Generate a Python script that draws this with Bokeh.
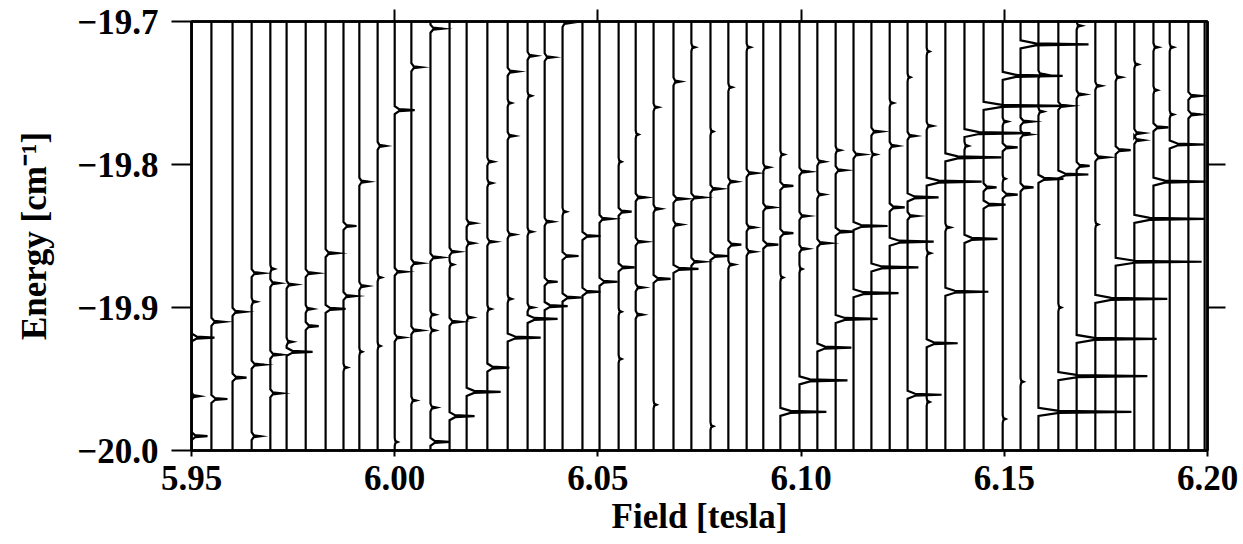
from bokeh.plotting import figure
from bokeh.models import LinearAxis, FixedTicker, Range1d, ColumnDataSource
from bokeh.embed import file_html
from bokeh.resources import INLINE

# ---------------- data ----------------
# magnetic field of each recorded trace [tesla]
FIELD = [5.9500, 5.9549, 5.9601, 5.9648, 5.9694, 5.9734, 5.9781, 5.9830, 5.9874, 5.9913,
         5.9958, 6.0000, 6.0041, 6.0088, 6.0135, 6.0177, 6.0228, 6.0278, 6.0327, 6.0369,
         6.0413, 6.0462, 6.0504, 6.0551, 6.0593, 6.0637, 6.0686, 6.0730, 6.0777, 6.0821,
         6.0866, 6.0907, 6.0949, 6.0996, 6.1040, 6.1085, 6.1129, 6.1173, 6.1218, 6.1262,
         6.1309, 6.1355, 6.1402, 6.1449, 6.1496, 6.1540, 6.1584, 6.1633, 6.1678, 6.1724,
         6.1774, 6.1820, 6.1867, 6.1907, 6.1953, 6.1993]

# peak energies [cm^-1] for each trace
PEAK_E = [
    [-19.921, -19.962, -19.990],
    [-19.910, -19.964],
    [-19.903, -19.949],
    [-19.876, -19.896, -19.940, -19.990],
    [-19.873, -19.883, -19.933, -19.960],
    [-19.884, -19.924, -19.931],
    [-19.876, -19.901, -19.913],
    [-19.862, -19.901],
    [-19.843, -19.892, -19.942],
    [-19.812, -19.885, -19.931],
    [-19.787, -19.879, -19.927],
    [-19.762, -19.875, -19.921, -19.994],
    [-19.732, -19.869, -19.916, -19.965],
    [-19.705, -19.865, -19.905, -19.916, -19.970, -19.994],
    [-19.861, -19.870, -19.910, -19.976],
    [-19.841, -19.855, -19.907, -19.959],
    [-19.798, -19.813, -19.854, -19.901, -19.942],
    [-19.735, -19.757, -19.780, -19.849, -19.894, -19.921],
    [-19.724, -19.752, -19.847, -19.900, -19.908],
    [-19.725, -19.840, -19.882, -19.899],
    [-19.701, -19.833, -19.864, -19.893],
    [-19.850, -19.889],
    [-19.838, -19.882],
    [-19.798, -19.833, -19.872, -19.903, -19.936],
    [-19.779, -19.823, -19.854, -19.886, -19.905],
    [-19.760, -19.831, -19.880, -19.968],
    [-19.742, -19.824, -19.842, -19.873],
    [-19.718, -19.823, -19.868],
    [-19.777, -19.817, -19.864, -19.983],
    [-19.746, -19.812, -19.856, -19.870],
    [-19.718, -19.806, -19.844, -19.861],
    [-19.802, -19.830, -19.856],
    [-19.793, -19.815, -19.848, -19.879, -19.973],
    [-19.805, -19.836, -19.859, -19.873, -19.951],
    [-19.798, -19.821, -19.855, -19.928],
    [-19.790, -19.804, -19.847, -19.908],
    [-19.793, -19.843, -19.890],
    [-19.777, -19.793, -19.872],
    [-19.757, -19.787, -19.830, -19.854],
    [-19.739, -19.780, -19.823, -19.836, -19.961],
    [-19.721, -19.773, -19.812, -19.862, -19.925, -19.966],
    [-19.795, -19.844, -19.889],
    [-19.778, -19.787, -19.852],
    [-19.759, -19.816, -19.828],
    [-19.738, -19.770, -19.788, -19.810, -19.821, -19.978],
    [-19.716, -19.770, -19.779, -19.816, -19.952],
    [-19.737, -19.763, -19.810, -19.973],
    [-19.759, -19.807, -19.900, -19.948],
    [-19.703, -19.751, -19.801, -19.922],
    [-19.745, -19.795, -19.842, -19.894],
    [-19.739, -19.790, -19.868],
    [-19.730, -19.778, -19.783, -19.838],
    [-19.718, -19.748, -19.774, -19.812],
    [-19.718, -19.765, -19.786],
    [-19.752, -19.765],
    [],
]

# peak intensities [arb. units] matching PEAK_E
PEAK_A = [
    [23, 8, 16],
    [12, 16],
    [12, 14],
    [11, 5, 12, 9],
    [4, 9, 11, 11],
    [9, 6, 26],
    [11, 7, 13],
    [12, 20],
    [13, 12, 4],
    [9, 8, 3],
    [8, 4, 3],
    [20, 11, 9, 3],
    [10, 10, 10, 5],
    [12, 11, 5, 5, 6, 19],
    [9, 4, 11, 25],
    [8, 7, 6, 34],
    [6, 5, 8, 4, 22],
    [10, 4, 7, 7, 4, 33],
    [8, 4, 5, 6, 30],
    [9, 8, 13, 23],
    [8, 4, 16, 19],
    [18, 18],
    [12, 18],
    [3, 13, 16, 3, 3],
    [3, 10, 10, 8, 7],
    [5, 7, 17, 3],
    [7, 12, 8, 25],
    [4, 12, 12],
    [3, 10, 18, 3],
    [4, 8, 13, 6],
    [4, 10, 8, 8],
    [6, 10, 15],
    [4, 13, 13, 3, 46],
    [10, 9, 8, 3, 48],
    [7, 7, 12, 34],
    [5, 10, 18, 42],
    [10, 34, 45],
    [10, 5, 47],
    [4, 8, 15, 44],
    [3, 8, 31, 10, 34],
    [3, 6, 55, 4, 31, 3],
    [56, 5, 43],
    [66, 4, 33],
    [84, 13, 22],
    [60, 5, 15, 3, 15, 3],
    [68, 12, 10, 13, 3],
    [7, 5, 25, 93],
    [12, 30, 3, 89],
    [5, 8, 13, 80],
    [6, 12, 3, 72],
    [6, 15, 86],
    [4, 9, 9, 70],
    [5, 4, 15, 52],
    [4, 4, 35],
    [12, 12],
    [],
]

X_TICKS = [5.95, 6.00, 6.05, 6.10, 6.15, 6.20]
X_LABELS = ["5.95", "6.00", "6.05", "6.10", "6.15", "6.20"]
Y_TICKS = [-20.0, -19.9, -19.8, -19.7]
Y_LABELS = ["\u221220.0", "\u221219.9", "\u221219.8", "\u221219.7"]
TOP_TICKS = [6.00, 6.05, 6.10, 6.15]
RIGHT_TICKS = [-19.9, -19.8]
X_TITLE = "Field [tesla]"
Y_TITLE = "Energy [cm\u207b\u00b9]"
X_RANGE = (5.95, 6.20)
Y_RANGE = (-20.0, -19.7)

# ---------------- drawing style ----------------
T_PER_UNIT = 0.25 / 1016.0   # horizontal size of one intensity unit
HALF_W = 0.0028              # half width of a peak drawing in energy

xs, ys = [], []
for f, es, amps in zip(FIELD, PEAK_E, PEAK_A):
    px, py = [f], [Y_RANGE[1] + 0.005]
    for e, a in sorted(zip(es, amps), key=lambda t: -t[0]):
        d = a * T_PER_UNIT
        px += [f, f + 0.22 * d, f + d, f + 0.22 * d, f]
        py += [e + HALF_W, e + 0.25 * HALF_W, e, e - 0.25 * HALF_W, e - HALF_W]
    px.append(f)
    py.append(Y_RANGE[0] - 0.005)
    xs.append(px)
    ys.append(py)

src = ColumnDataSource(data=dict(xs=xs, ys=ys))

FONT = "Liberation Serif"

p = figure(width=1240, height=544,
           x_range=Range1d(*X_RANGE), y_range=Range1d(*Y_RANGE),
           output_backend="svg", toolbar_location=None,
           x_axis_location=None, y_axis_location=None,
           min_border_left=191, min_border_right=33,
           min_border_top=21, min_border_bottom=94)
p.grid.visible = False
p.outline_line_color = "black"
p.outline_line_width = 2.5
p.background_fill_color = "white"
p.border_fill_color = "white"

p.multi_line(xs="xs", ys="ys", source=src, line_color="black", line_width=2.2,
             line_join="miter")


def style(ax, ticks, tick_out):
    ax.ticker = FixedTicker(ticks=ticks)
    ax.axis_line_width = 2.5
    ax.axis_line_color = "black"
    ax.major_tick_line_width = 2
    ax.major_tick_in = 0
    ax.major_tick_out = tick_out
    ax.minor_tick_line_color = None
    ax.major_label_text_font = FONT
    ax.major_label_text_font_style = "bold"
    ax.major_label_text_font_size = "35px"
    ax.major_label_text_color = "black"
    ax.axis_label_text_font = FONT
    ax.axis_label_text_font_style = "bold"
    ax.axis_label_text_font_size = "35px"
    ax.axis_label_text_color = "black"


bottom = LinearAxis(axis_label=X_TITLE)
style(bottom, X_TICKS, 6)
bottom.major_label_overrides = dict(zip(X_TICKS, X_LABELS))
bottom.major_label_standoff = 9
bottom.axis_label_standoff = 4
p.add_layout(bottom, "below")

left = LinearAxis(axis_label=Y_TITLE)
style(left, Y_TICKS, 20)
left.major_label_overrides = dict(zip(Y_TICKS, Y_LABELS))
left.major_label_standoff = 13
left.axis_label_standoff = 20
p.add_layout(left, "left")

top = LinearAxis()
style(top, TOP_TICKS, 12)
top.major_label_text_font_size = "1px"
top.major_label_text_color = None
top.major_label_standoff = 0
p.add_layout(top, "above")

right = LinearAxis()
style(right, RIGHT_TICKS, 18)
right.major_label_text_font_size = "1px"
right.major_label_text_color = None
right.major_label_standoff = 0
p.add_layout(right, "right")

open("out.html", "w").write(file_html(p, INLINE))
